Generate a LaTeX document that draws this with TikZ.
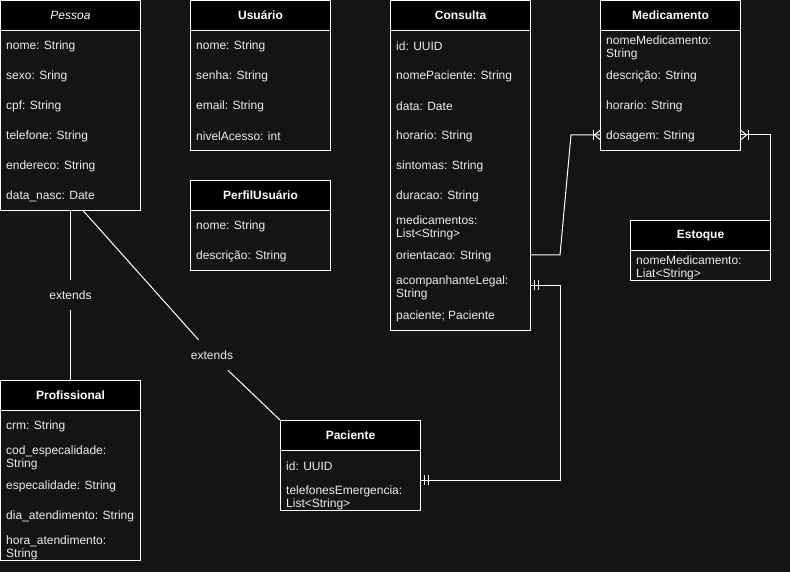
\documentclass[tikz,border=0pt]{standalone}
\usepackage{fontspec}
\setmainfont{Liberation Sans}
\usetikzlibrary{calc}
\definecolor{bg}{HTML}{141414}
\definecolor{txt}{HTML}{EDEDED}
\begin{document}
\begin{tikzpicture}[x=1pt,y=-1pt,
  hdr/.style={draw=white, fill=black, line width=1pt, minimum width=140pt, minimum height=30pt, anchor=north west, inner sep=0pt, outer sep=0pt, text=white, font=\bfseries\fontsize{12}{13}\selectfont},
  bodybox/.style={draw=white, fill=bg, line width=1pt, minimum width=140pt, anchor=north west, inner sep=0pt, outer sep=0pt},
  attr/.style={anchor=west, inner sep=0pt, yshift=-1pt, text=txt, font=\fontsize{12}{13}\selectfont, align=left},
  conn/.style={draw=white, line width=1pt},
  lbl/.style={fill=bg, text=txt, font=\fontsize{12}{13}\selectfont, inner xsep=1pt, inner ysep=0pt, minimum height=30pt},
  tick/.style={draw=white, line width=1pt}]
\fill[bg] (0,0) rectangle (790,572);
\useasboundingbox (0,0) rectangle (790,572);

% ---------- Pessoa ----------
\node[hdr, font=\itshape\fontsize{12}{13}\selectfont] (pesH) at (0.5,0.5) {Pessoa};
\node[bodybox, minimum height=180pt] (pesB) at (pesH.south west) {};
\node[attr] (pes1) at (6,45) {nome: String};
\node[attr] (pes2) at (6,75) {sexo: Sring};
\node[attr] (pes3) at (6,105) {cpf: String};
\node[attr] (pes4) at (6,135) {telefone: String};
\node[attr] (pes5) at (6,165) {endereco: String};
\node[attr] (pes6) at (6,195) {data\_nasc: Date};

% ---------- Usuario ----------
\node[hdr] (usuH) at (190.5,0.5) {Usuário};
\node[bodybox, minimum height=120pt] (usuB) at (usuH.south west) {};
\node[attr] (usu1) at (196,45) {nome: String};
\node[attr] (usu2) at (196,75) {senha: String};
\node[attr] (usu3) at (196,105) {email: String};
\node[attr] (usu4) at (196,135) {nivelAcesso: int};

% ---------- PerfilUsuario ----------
\node[hdr] (perH) at (190.5,180.5) {PerfilUsuário};
\node[bodybox, minimum height=60pt] (perB) at (perH.south west) {};
\node[attr] (per1) at (196,225) {nome: String};
\node[attr] (per2) at (196,255) {descrição: String};

% ---------- Consulta ----------
\node[hdr] (conH) at (390.5,0.5) {Consulta};
\node[bodybox, minimum height=300pt] (conB) at (conH.south west) {};
\node[attr] (con1) at (396,45) {id: UUID};
\node[attr] (con2) at (396,75) {nomePaciente: String};
\node[attr] (con3) at (396,105) {data: Date};
\node[attr] (con4) at (396,135) {horario: String};
\node[attr] (con5) at (396,165) {sintomas: String};
\node[attr] (con6) at (396,195) {duracao: String};
\node[attr] (con7) at (396,227) {medicamentos:\\List<String>};
\node[attr] (con8) at (396,255) {orientacao: String};
\node[attr] (con9) at (396,287) {acompanhanteLegal:\\String};
\node[attr] (con10) at (396,315) {paciente; Paciente};

% ---------- Medicamento ----------
\node[hdr] (medH) at (600.5,0.5) {Medicamento};
\node[bodybox, minimum height=120pt] (medB) at (medH.south west) {};
\node[attr] (med1) at (606,47) {nomeMedicamento:\\String};
\node[attr] (med2) at (606,75) {descrição: String};
\node[attr] (med3) at (606,105) {horario: String};
\node[attr] (med4) at (606,135) {dosagem: String};

% ---------- Estoque ----------
\node[hdr] (estH) at (630.5,220.5) {Estoque};
\node[bodybox, minimum height=30pt] (estB) at (estH.south west) {};
\node[attr] (est1) at (636,267) {nomeMedicamento:\\Liat<String>};

% ---------- Profissional ----------
\node[hdr] (proH) at (0.5,380.5) {Profissional};
\node[bodybox, minimum height=150pt] (proB) at (proH.south west) {};
\node[attr] (pro1) at (6,425) {crm: String};
\node[attr] (pro2) at (6,457) {cod\_especalidade:\\String};
\node[attr] (pro3) at (6,485) {especalidade: String};
\node[attr] (pro4) at (6,515) {dia\_atendimento: String};
\node[attr] (pro5) at (6,547) {hora\_atendimento:\\String};

% ---------- Paciente ----------
\node[hdr] (pacH) at (280.5,420.5) {Paciente};
\node[bodybox, minimum height=60pt] (pacB) at (pacH.south west) {};
\node[attr] (pac1) at (286,465) {id: UUID};
\node[attr] (pac2) at (286,497) {telefonesEmergencia:\\List<String>};

% ---------- extends labels ----------
\node[lbl] (ext1) at (70.5,295) {extends};
\node[lbl] (ext2) at (212,355) {extends};

% ---------- connectors ----------
\coordinate (pesOut) at (83,210.5);
\draw[conn] (pesB.south) -- (ext1) -- (proH.north);
\draw[conn] (pesOut) -- (ext2) -- (pacH.north west);

% Consulta -> Medicamento (one to many)
\coordinate (conOri) at (530.5,255);
\coordinate (medDos) at (600.5,135);
\draw[conn] (conOri) -- (560,255) -- (571,135) -- (medDos);
\draw[tick] (593,130) -- (593,140);
\draw[tick] (594.5,135) -- (600.5,130);
\draw[tick] (594.5,135) -- (600.5,140);

% Estoque -> Medicamento (one to many)
\coordinate (estTop) at (770.5,220.5);
\coordinate (medRight) at (740.5,135);
\draw[conn] (estTop) -- (770.5,135) -- (medRight);
\draw[tick] (748,130) -- (748,140);
\draw[tick] (746.5,135) -- (740.5,130);
\draw[tick] (746.5,135) -- (740.5,140);

% Consulta -> Paciente (mandatory one)
\coordinate (conAco) at (530.5,285);
\coordinate (pacRight) at (420.5,480);
\draw[conn] (conAco) -- (560.5,285) -- (560.5,480) -- (pacRight);
\draw[tick] (534.5,280) -- (534.5,290);
\draw[tick] (538.5,280) -- (538.5,290);
\draw[tick] (424.5,475) -- (424.5,485);
\draw[tick] (428.5,475) -- (428.5,485);
\end{tikzpicture}
\end{document}
